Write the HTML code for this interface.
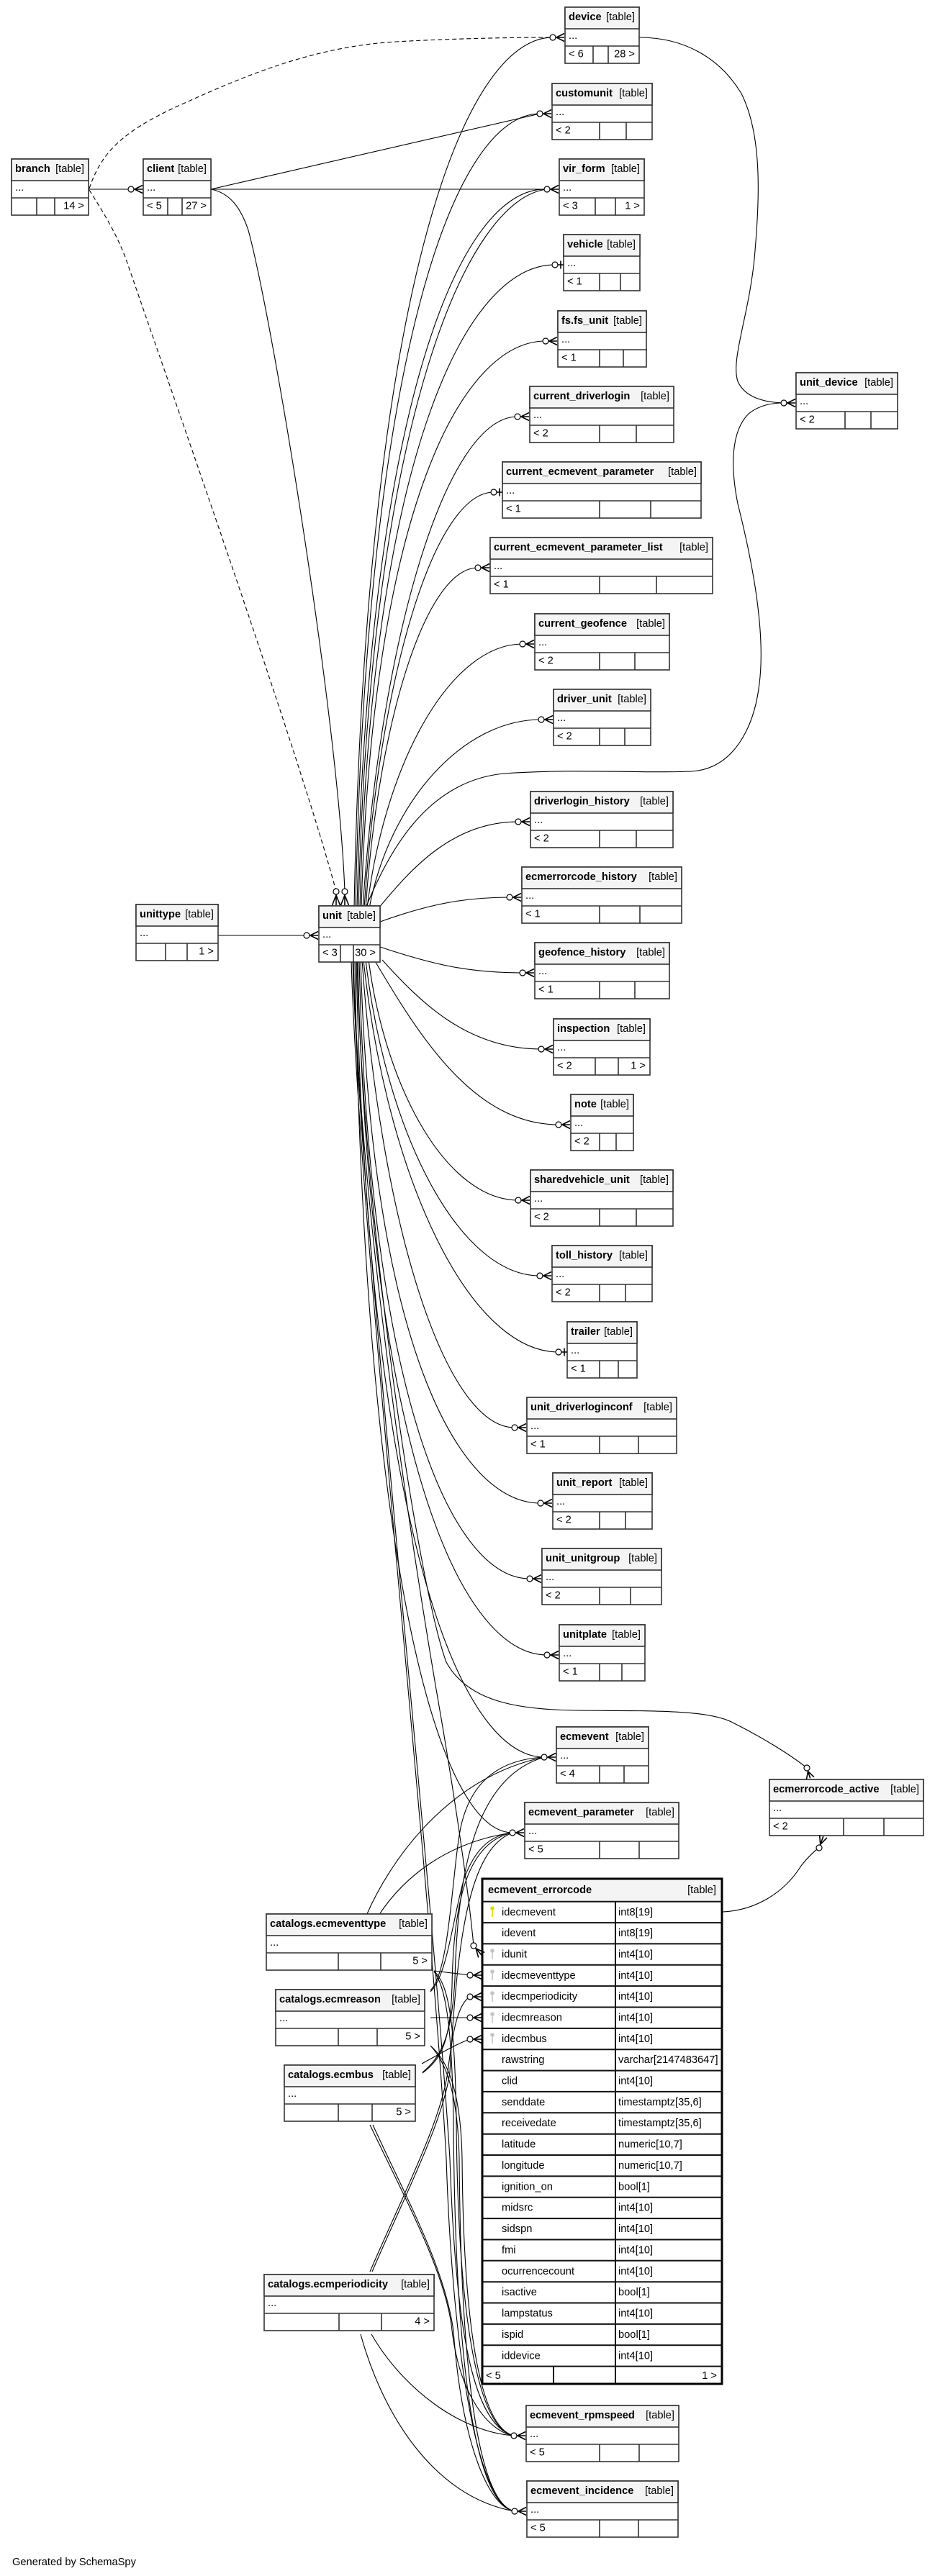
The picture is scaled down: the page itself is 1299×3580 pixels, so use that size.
<!DOCTYPE html>
<html>
<head>
<meta charset="utf-8">
<style>
html,body{margin:0;padding:0;background:#fff;}
body{width:1299px;height:3580px;overflow:hidden;}
svg{display:block;}
text{font-family:"Liberation Sans",Arial,sans-serif;font-size:14.67px;fill:#000;}
.n{font-weight:bold;}
.tr{text-anchor:end;}
.bx rect.o{fill:#fff;stroke:#333;stroke-width:1.6;}
.bx rect.h{fill:#f4f4f4;stroke:#333;stroke-width:1.6;}
.bx path{stroke:#333;stroke-width:1.6;fill:none;}
.e path{fill:none;stroke:#000;stroke-width:1.1;}
.e .d{stroke-dasharray:6,4;}
.m path{fill:none;stroke:#000;stroke-width:1.6;}
.m circle{fill:#fff;stroke:#000;stroke-width:1.2;}
</style>
</head>
<body>
<svg width="1299" height="3580" viewBox="0 0 1299 3580" xmlns="http://www.w3.org/2000/svg">
<rect x="0" y="0" width="1299" height="3580" fill="#fff"/>

<!-- EDGES -->
<g class="e">
<!-- branch edges -->
<path d="M123,263 L182,263"/>
<path class="d" d="M124,262 C140,215 165,185 248,147 C330,110 430,65 550,58 C640,53 720,52 768,52"/>
<path class="d" d="M124,264 C140,290 160,320 175,360 C230,520 420,1060 467,1239"/>
<!-- client edges -->
<path d="M293,263 L750,158"/>
<path d="M293,263 L760,263"/>
<path d="M293,263 C320,268 335,290 345,320 C380,450 470,1000 479,1239"/>
<!-- device -> unit_device -->
<path d="M888,52 C950,52 1000,80 1030,130 C1060,190 1055,280 1048,360 C1040,440 1015,500 1025,530 C1035,552 1060,559 1089,560"/>
<!-- unittype -> unit -->
<path d="M303,1300 L426,1300"/>
<!-- unit above -->
<path d="M492,1262 C508,413 642,52 768,52"/>
<path d="M494,1262 C509,487 633,158 750,158"/>
<path d="M496,1262 C512,561 640,258 760,263"/>
<path d="M498,1262 C514,580 650,275 760,263"/>
<path d="M500,1262 C516,634 647,368 771,368"/>
<path d="M502,1262 C517,709 641,474 758,474"/>
<path d="M504,1262 C529,884 620,579 719,579"/>
<path d="M506,1262 C527,941 603,684 686,684"/>
<path d="M508,1262 C526,999 592,789 664,789"/>
<path d="M510,1262 C535,1057 627,895 726,895"/>
<path d="M513,1262 C541,1115 642,1000 752,1000"/>
<path d="M526,1262 C573,1205 630,1142 720,1142"/>
<path d="M528,1281 C600,1255 650,1247 708,1247"/>
<path d="M528,1316 C600,1340 650,1352 726,1352"/>
<path d="M508,1262 C545,1170 600,1085 700,1075 C800,1068 900,1075 961,1072 C1020,1068 1048,1010 1055,950 C1065,870 1040,760 1025,700 C1015,650 1015,600 1040,575 C1055,563 1072,560 1089,560"/>
<!-- unit below -->
<path d="M531,1334 C585,1394 650,1458 752,1458"/>
<path d="M520,1334 C583,1441 659,1563 776,1563"/>
<path d="M512,1334 C537,1521 624,1668 720,1668"/>
<path d="M508,1334 C537,1579 639,1773 750,1773"/>
<path d="M505,1334 C537,1637 652,1879 776,1879"/>
<path d="M503,1334 C528,1695 617,1984 715,1984"/>
<path d="M501,1334 C516,1865 636,2089 751,2089"/>
<path d="M499,1334 C513,1938 627,2194 736,2194"/>
<path d="M497,1334 C512,2013 639,2300 760,2300"/>
<path d="M495,1334 C510,2112 636,2442 756,2442"/>
<path d="M493,1334 C506,2185 611,2547 712,2547"/>
<path d="M491,1334 C500,1700 580,2200 615,2400 C635,2520 650,2620 658,2704"/>
<path d="M496,1334 C505,1700 580,2200 620,2310 C650,2365 720,2376 800,2377 C900,2378 985,2375 1020,2395 C1060,2415 1100,2440 1121,2457"/>
<path d="M490,1334 C500,1700 600,2600 625,3000 C632,3200 650,3370 714,3385"/>
<path d="M488,1334 C498,1700 598,2600 620,3000 C628,3250 660,3480 715,3490"/>
<!-- catalogs -->
<path d="M509,2662 C540,2590 620,2470 756,2442"/>
<path d="M526,2662 C560,2610 620,2560 712,2547"/>
<path d="M603,2739 L653,2745"/>
<path d="M603,2739 C622,2758 632,2800 634,2950 C636,3200 660,3375 714,3385"/>
<path d="M603,2740 C620,2762 628,2820 630,2950 C632,3250 655,3480 715,3490"/>
<path d="M598,2804 L653,2804"/>
<path d="M598,2766 C625,2740 628,2600 640,2540 C655,2470 700,2445 756,2442"/>
<path d="M598,2768 C622,2745 630,2660 645,2610 C662,2565 685,2550 712,2547"/>
<path d="M598,2843 C620,2862 640,2900 642,3000 C644,3250 670,3375 714,3385"/>
<path d="M598,2843 C618,2864 636,2905 638,3000 C640,3300 665,3480 715,3490"/>
<path d="M586,2868 C610,2855 635,2840 653,2834"/>
<path d="M587,2880 C612,2860 628,2830 632,2750 C636,2600 660,2470 756,2442"/>
<path d="M587,2881 C612,2862 626,2840 628,2760 C630,2640 650,2560 712,2547"/>
<path d="M514,2953 C560,3050 615,3150 627,3230 C637,3330 680,3380 714,3385"/>
<path d="M518,2953 C562,3050 618,3150 630,3240 C642,3400 680,3485 715,3490"/>
<path d="M514,3157 C560,3050 612,2950 622,2880 C628,2830 635,2785 653,2775"/>
<path d="M517,3157 C563,3050 615,2950 625,2880 C635,2700 650,2570 712,2547"/>
<path d="M516,3244 C560,3320 640,3380 714,3385"/>
<path d="M501,3244 C530,3350 600,3470 715,3490"/>
<!-- errorcode -> ecmerrorcode_active -->
<path d="M1004,2657 C1050,2655 1090,2630 1113,2593 C1125,2578 1132,2572 1138,2568"/>
</g>

<!-- BOXES -->
<g class="bx">
<rect class="o" x="785" y="10" width="103" height="78"/><rect class="h" x="785" y="10" width="103" height="30"/><path d="M785,64H888M824,64V88M845,64V88"/>
<text x="790" y="28" class="n">device</text><text x="882" y="28" class="tr">[table]</text><text x="790" y="54">...</text><text x="790" y="79.5">&lt; 6</text><text x="882" y="79.5" class="tr">28 &gt;</text>
</g>
<g class="bx">
<rect class="o" x="767" y="116" width="139" height="78"/><rect class="h" x="767" y="116" width="139" height="30"/><path d="M767,170H906M833,170V194M870,170V194"/>
<text x="772" y="134" class="n">customunit</text><text x="900" y="134" class="tr">[table]</text><text x="772" y="160">...</text><text x="772" y="185.5">&lt; 2</text>
</g>
<g class="bx">
<rect class="o" x="16" y="221" width="107" height="78"/><rect class="h" x="16" y="221" width="107" height="30"/><path d="M16,275H123M51,275V299M76,275V299"/>
<text x="21" y="239" class="n">branch</text><text x="117" y="239" class="tr">[table]</text><text x="21" y="265">...</text><text x="117" y="290.5" class="tr">14 &gt;</text>
</g>
<g class="bx">
<rect class="o" x="199" y="221" width="94" height="78"/><rect class="h" x="199" y="221" width="94" height="30"/><path d="M199,275H293M233,275V299M253,275V299"/>
<text x="204" y="239" class="n">client</text><text x="287" y="239" class="tr">[table]</text><text x="204" y="265">...</text><text x="204" y="290.5">&lt; 5</text><text x="287" y="290.5" class="tr">27 &gt;</text>
</g>
<g class="bx">
<rect class="o" x="777" y="221" width="118" height="78"/><rect class="h" x="777" y="221" width="118" height="30"/><path d="M777,275H895M827,275V299M855,275V299"/>
<text x="782" y="239" class="n">vir_form</text><text x="889" y="239" class="tr">[table]</text><text x="782" y="265">...</text><text x="782" y="290.5">&lt; 3</text><text x="889" y="290.5" class="tr">1 &gt;</text>
</g>
<g class="bx">
<rect class="o" x="783" y="326" width="106" height="78"/><rect class="h" x="783" y="326" width="106" height="30"/><path d="M783,380H889M833,380V404M862,380V404"/>
<text x="788" y="344" class="n">vehicle</text><text x="883" y="344" class="tr">[table]</text><text x="788" y="370">...</text><text x="788" y="395.5">&lt; 1</text>
</g>
<g class="bx">
<rect class="o" x="775" y="432" width="123" height="78"/><rect class="h" x="775" y="432" width="123" height="30"/><path d="M775,486H898M833,486V510M866,486V510"/>
<text x="780" y="450" class="n">fs.fs_unit</text><text x="892" y="450" class="tr">[table]</text><text x="780" y="476">...</text><text x="780" y="501.5">&lt; 1</text>
</g>
<g class="bx">
<rect class="o" x="1106" y="518" width="141" height="78"/><rect class="h" x="1106" y="518" width="141" height="30"/><path d="M1106,572H1247M1174,572V596M1210,572V596"/>
<text x="1111" y="536" class="n">unit_device</text><text x="1241" y="536" class="tr">[table]</text><text x="1111" y="562">...</text><text x="1111" y="587.5">&lt; 2</text>
</g>
<g class="bx">
<rect class="o" x="736" y="537" width="200" height="78"/><rect class="h" x="736" y="537" width="200" height="30"/><path d="M736,591H936M833,591V615M884,591V615"/>
<text x="741" y="555" class="n">current_driverlogin</text><text x="930" y="555" class="tr">[table]</text><text x="741" y="581">...</text><text x="741" y="606.5">&lt; 2</text>
</g>
<g class="bx">
<rect class="o" x="698" y="642" width="276" height="78"/><rect class="h" x="698" y="642" width="276" height="30"/><path d="M698,696H974M833,696V720M904,696V720"/>
<text x="703" y="660" class="n">current_ecmevent_parameter</text><text x="968" y="660" class="tr">[table]</text><text x="703" y="686">...</text><text x="703" y="711.5">&lt; 1</text>
</g>
<g class="bx">
<rect class="o" x="681" y="747" width="309" height="78"/><rect class="h" x="681" y="747" width="309" height="30"/><path d="M681,801H990M833,801V825M912,801V825"/>
<text x="686" y="765" class="n">current_ecmevent_parameter_list</text><text x="984" y="765" class="tr">[table]</text><text x="686" y="791">...</text><text x="686" y="816.5">&lt; 1</text>
</g>
<g class="bx">
<rect class="o" x="743" y="853" width="187" height="78"/><rect class="h" x="743" y="853" width="187" height="30"/><path d="M743,907H930M833,907V931M882,907V931"/>
<text x="748" y="871" class="n">current_geofence</text><text x="924" y="871" class="tr">[table]</text><text x="748" y="897">...</text><text x="748" y="922.5">&lt; 2</text>
</g>
<g class="bx">
<rect class="o" x="769" y="958" width="135" height="78"/><rect class="h" x="769" y="958" width="135" height="30"/><path d="M769,1012H904M833,1012V1036M868,1012V1036"/>
<text x="774" y="976" class="n">driver_unit</text><text x="898" y="976" class="tr">[table]</text><text x="774" y="1002">...</text><text x="774" y="1027.5">&lt; 2</text>
</g>
<g class="bx">
<rect class="o" x="737" y="1100" width="198" height="78"/><rect class="h" x="737" y="1100" width="198" height="30"/><path d="M737,1154H935M833,1154V1178M884,1154V1178"/>
<text x="742" y="1118" class="n">driverlogin_history</text><text x="929" y="1118" class="tr">[table]</text><text x="742" y="1144">...</text><text x="742" y="1169.5">&lt; 2</text>
</g>
<g class="bx">
<rect class="o" x="725" y="1205" width="222" height="78"/><rect class="h" x="725" y="1205" width="222" height="30"/><path d="M725,1259H947M833,1259V1283M889,1259V1283"/>
<text x="730" y="1223" class="n">ecmerrorcode_history</text><text x="941" y="1223" class="tr">[table]</text><text x="730" y="1249">...</text><text x="730" y="1274.5">&lt; 1</text>
</g>
<g class="bx">
<rect class="o" x="189" y="1257" width="114" height="78"/><rect class="h" x="189" y="1257" width="114" height="30"/><path d="M189,1311H303M230,1311V1335M260,1311V1335"/>
<text x="194" y="1275" class="n">unittype</text><text x="297" y="1275" class="tr">[table]</text><text x="194" y="1301">...</text><text x="297" y="1326.5" class="tr">1 &gt;</text>
</g>
<g class="bx">
<rect class="o" x="443" y="1259" width="85" height="78"/><rect class="h" x="443" y="1259" width="85" height="30"/><path d="M443,1313H528M473,1313V1337M491,1313V1337"/>
<text x="448" y="1277" class="n">unit</text><text x="522" y="1277" class="tr">[table]</text><text x="448" y="1303">...</text><text x="448" y="1328.5">&lt; 3</text><text x="522" y="1328.5" class="tr">30 &gt;</text>
</g>
<g class="bx">
<rect class="o" x="743" y="1310" width="187" height="78"/><rect class="h" x="743" y="1310" width="187" height="30"/><path d="M743,1364H930M833,1364V1388M882,1364V1388"/>
<text x="748" y="1328" class="n">geofence_history</text><text x="924" y="1328" class="tr">[table]</text><text x="748" y="1354">...</text><text x="748" y="1379.5">&lt; 1</text>
</g>
<g class="bx">
<rect class="o" x="769" y="1416" width="134" height="78"/><rect class="h" x="769" y="1416" width="134" height="30"/><path d="M769,1470H903M827,1470V1494M859,1470V1494"/>
<text x="774" y="1434" class="n">inspection</text><text x="897" y="1434" class="tr">[table]</text><text x="774" y="1460">...</text><text x="774" y="1485.5">&lt; 2</text><text x="897" y="1485.5" class="tr">1 &gt;</text>
</g>
<g class="bx">
<rect class="o" x="793" y="1521" width="87" height="78"/><rect class="h" x="793" y="1521" width="87" height="30"/><path d="M793,1575H880M833,1575V1599M856,1575V1599"/>
<text x="798" y="1539" class="n">note</text><text x="874" y="1539" class="tr">[table]</text><text x="798" y="1565">...</text><text x="798" y="1590.5">&lt; 2</text>
</g>
<g class="bx">
<rect class="o" x="737" y="1626" width="198" height="78"/><rect class="h" x="737" y="1626" width="198" height="30"/><path d="M737,1680H935M833,1680V1704M884,1680V1704"/>
<text x="742" y="1644" class="n">sharedvehicle_unit</text><text x="929" y="1644" class="tr">[table]</text><text x="742" y="1670">...</text><text x="742" y="1695.5">&lt; 2</text>
</g>
<g class="bx">
<rect class="o" x="767" y="1731" width="139" height="78"/><rect class="h" x="767" y="1731" width="139" height="30"/><path d="M767,1785H906M833,1785V1809M869,1785V1809"/>
<text x="772" y="1749" class="n">toll_history</text><text x="900" y="1749" class="tr">[table]</text><text x="772" y="1775">...</text><text x="772" y="1800.5">&lt; 2</text>
</g>
<g class="bx">
<rect class="o" x="788" y="1837" width="97" height="78"/><rect class="h" x="788" y="1837" width="97" height="30"/><path d="M788,1891H885M833,1891V1915M859,1891V1915"/>
<text x="793" y="1855" class="n">trailer</text><text x="879" y="1855" class="tr">[table]</text><text x="793" y="1881">...</text><text x="793" y="1906.5">&lt; 1</text>
</g>
<g class="bx">
<rect class="o" x="732" y="1942" width="208" height="78"/><rect class="h" x="732" y="1942" width="208" height="30"/><path d="M732,1996H940M833,1996V2020M887,1996V2020"/>
<text x="737" y="1960" class="n">unit_driverloginconf</text><text x="934" y="1960" class="tr">[table]</text><text x="737" y="1986">...</text><text x="737" y="2011.5">&lt; 1</text>
</g>
<g class="bx">
<rect class="o" x="768" y="2047" width="138" height="78"/><rect class="h" x="768" y="2047" width="138" height="30"/><path d="M768,2101H906M833,2101V2125M869,2101V2125"/>
<text x="773" y="2065" class="n">unit_report</text><text x="900" y="2065" class="tr">[table]</text><text x="773" y="2091">...</text><text x="773" y="2116.5">&lt; 2</text>
</g>
<g class="bx">
<rect class="o" x="753" y="2152" width="166" height="78"/><rect class="h" x="753" y="2152" width="166" height="30"/><path d="M753,2206H919M833,2206V2230M876,2206V2230"/>
<text x="758" y="2170" class="n">unit_unitgroup</text><text x="913" y="2170" class="tr">[table]</text><text x="758" y="2196">...</text><text x="758" y="2221.5">&lt; 2</text>
</g>
<g class="bx">
<rect class="o" x="777" y="2258" width="119" height="78"/><rect class="h" x="777" y="2258" width="119" height="30"/><path d="M777,2312H896M833,2312V2336M864,2312V2336"/>
<text x="782" y="2276" class="n">unitplate</text><text x="890" y="2276" class="tr">[table]</text><text x="782" y="2302">...</text><text x="782" y="2327.5">&lt; 1</text>
</g>
<g class="bx">
<rect class="o" x="773" y="2400" width="128" height="78"/><rect class="h" x="773" y="2400" width="128" height="30"/><path d="M773,2454H901M833,2454V2478M867,2454V2478"/>
<text x="778" y="2418" class="n">ecmevent</text><text x="895" y="2418" class="tr">[table]</text><text x="778" y="2444">...</text><text x="778" y="2469.5">&lt; 4</text>
</g>
<g class="bx">
<rect class="o" x="1069" y="2473" width="214" height="78"/><rect class="h" x="1069" y="2473" width="214" height="30"/><path d="M1069,2527H1283M1172,2527V2551M1228,2527V2551"/>
<text x="1074" y="2491" class="n">ecmerrorcode_active</text><text x="1277" y="2491" class="tr">[table]</text><text x="1074" y="2517">...</text><text x="1074" y="2542.5">&lt; 2</text>
</g>
<g class="bx">
<rect class="o" x="729" y="2505" width="214" height="78"/><rect class="h" x="729" y="2505" width="214" height="30"/><path d="M729,2559H943M833,2559V2583M888,2559V2583"/>
<text x="734" y="2523" class="n">ecmevent_parameter</text><text x="937" y="2523" class="tr">[table]</text><text x="734" y="2549">...</text><text x="734" y="2574.5">&lt; 5</text>
</g>
<g class="bx">
<rect class="o" x="370" y="2660" width="230" height="78"/><rect class="h" x="370" y="2660" width="230" height="30"/><path d="M370,2714H600M470,2714V2738M529,2714V2738"/>
<text x="375" y="2678" class="n">catalogs.ecmeventtype</text><text x="594" y="2678" class="tr">[table]</text><text x="375" y="2704">...</text><text x="594" y="2729.5" class="tr">5 &gt;</text>
</g>
<g class="bx">
<rect class="o" x="383" y="2765" width="207" height="78"/><rect class="h" x="383" y="2765" width="207" height="30"/><path d="M383,2819H590M470,2819V2843M524,2819V2843"/>
<text x="388" y="2783" class="n">catalogs.ecmreason</text><text x="584" y="2783" class="tr">[table]</text><text x="388" y="2809">...</text><text x="584" y="2834.5" class="tr">5 &gt;</text>
</g>
<g class="bx">
<rect class="o" x="395" y="2870" width="182" height="78"/><rect class="h" x="395" y="2870" width="182" height="30"/><path d="M395,2924H577M470,2924V2948M517,2924V2948"/>
<text x="400" y="2888" class="n">catalogs.ecmbus</text><text x="571" y="2888" class="tr">[table]</text><text x="400" y="2914">...</text><text x="571" y="2939.5" class="tr">5 &gt;</text>
</g>
<g class="bx">
<rect class="o" x="367" y="3161" width="236" height="78"/><rect class="h" x="367" y="3161" width="236" height="30"/><path d="M367,3215H603M471,3215V3239M530,3215V3239"/>
<text x="372" y="3179" class="n">catalogs.ecmperiodicity</text><text x="597" y="3179" class="tr">[table]</text><text x="372" y="3205">...</text><text x="597" y="3230.5" class="tr">4 &gt;</text>
</g>
<g class="bx">
<rect class="o" x="731" y="3343" width="212" height="78"/><rect class="h" x="731" y="3343" width="212" height="30"/><path d="M731,3397H943M833,3397V3421M888,3397V3421"/>
<text x="736" y="3361" class="n">ecmevent_rpmspeed</text><text x="937" y="3361" class="tr">[table]</text><text x="736" y="3387">...</text><text x="736" y="3412.5">&lt; 5</text>
</g>
<g class="bx">
<rect class="o" x="732" y="3448" width="210" height="78"/><rect class="h" x="732" y="3448" width="210" height="30"/><path d="M732,3502H942M833,3502V3526M887,3502V3526"/>
<text x="737" y="3466" class="n">ecmevent_incidence</text><text x="936" y="3466" class="tr">[table]</text><text x="737" y="3492">...</text><text x="737" y="3517.5">&lt; 5</text>
</g>

<!-- ecmevent_errorcode big table -->
<g>
<rect x="670" y="2611" width="333" height="702" fill="#fff" stroke="#000" stroke-width="3"/>
<rect x="671.5" y="2612.5" width="330" height="30.2" fill="#f4f4f4"/>
<path fill="none" stroke="#111" stroke-width="2" d="M670,2642.7H1003M670,2672.1H1003M670,2701.4H1003M670,2730.8H1003M670,2760.1H1003M670,2789.5H1003M670,2818.9H1003M670,2848.2H1003M670,2877.6H1003M670,2906.9H1003M670,2936.3H1003M670,2965.7H1003M670,2995H1003M670,3024.4H1003M670,3053.7H1003M670,3083.1H1003M670,3112.5H1003M670,3141.8H1003M670,3171.2H1003M670,3200.5H1003M670,3229.9H1003M670,3259.3H1003M670,3288.6H1003M855,2642.7V3313M769,3288.6V3313"/>
<rect x="670" y="2611" width="333" height="702" fill="none" stroke="#000" stroke-width="3"/>
<text x="678" y="2631" class="n">ecmevent_errorcode</text><text x="995" y="2631" class="tr">[table]</text>
<!-- keys -->
<circle cx="684" cy="2652" r="2.8" fill="#e0e000"/><rect x="683.2" y="2654" width="1.6" height="10" fill="#e0e000"/>
<circle cx="684" cy="2711" r="2.8" fill="#c4c4c4"/><rect x="683.2" y="2713" width="1.6" height="10" fill="#c4c4c4"/>
<circle cx="684" cy="2740" r="2.8" fill="#c4c4c4"/><rect x="683.2" y="2742" width="1.6" height="10" fill="#c4c4c4"/>
<circle cx="684" cy="2770" r="2.8" fill="#c4c4c4"/><rect x="683.2" y="2772" width="1.6" height="10" fill="#c4c4c4"/>
<circle cx="684" cy="2799" r="2.8" fill="#c4c4c4"/><rect x="683.2" y="2801" width="1.6" height="10" fill="#c4c4c4"/>
<circle cx="684" cy="2828" r="2.8" fill="#c4c4c4"/><rect x="683.2" y="2830" width="1.6" height="10" fill="#c4c4c4"/>
<text x="697" y="2662">idecmevent</text><text x="859" y="2662">int8[19]</text>
<text x="697" y="2691">idevent</text><text x="859" y="2691">int8[19]</text>
<text x="697" y="2720.5">idunit</text><text x="859" y="2720.5">int4[10]</text>
<text x="697" y="2750">idecmeventtype</text><text x="859" y="2750">int4[10]</text>
<text x="697" y="2779">idecmperiodicity</text><text x="859" y="2779">int4[10]</text>
<text x="697" y="2808.5">idecmreason</text><text x="859" y="2808.5">int4[10]</text>
<text x="697" y="2838">idecmbus</text><text x="859" y="2838">int4[10]</text>
<text x="697" y="2867">rawstring</text><text x="859" y="2867">varchar[2147483647]</text>
<text x="697" y="2896.5">clid</text><text x="859" y="2896.5">int4[10]</text>
<text x="697" y="2926">senddate</text><text x="859" y="2926">timestamptz[35,6]</text>
<text x="697" y="2955">receivedate</text><text x="859" y="2955">timestamptz[35,6]</text>
<text x="697" y="2984.5">latitude</text><text x="859" y="2984.5">numeric[10,7]</text>
<text x="697" y="3014">longitude</text><text x="859" y="3014">numeric[10,7]</text>
<text x="697" y="3043.5">ignition_on</text><text x="859" y="3043.5">bool[1]</text>
<text x="697" y="3072.5">midsrc</text><text x="859" y="3072.5">int4[10]</text>
<text x="697" y="3102">sidspn</text><text x="859" y="3102">int4[10]</text>
<text x="697" y="3131.5">fmi</text><text x="859" y="3131.5">int4[10]</text>
<text x="697" y="3161">ocurrencecount</text><text x="859" y="3161">int4[10]</text>
<text x="697" y="3190">isactive</text><text x="859" y="3190">bool[1]</text>
<text x="697" y="3219.5">lampstatus</text><text x="859" y="3219.5">int4[10]</text>
<text x="697" y="3249">ispid</text><text x="859" y="3249">bool[1]</text>
<text x="697" y="3278.5">iddevice</text><text x="859" y="3278.5">int4[10]</text>
<text x="675" y="3306">&lt; 5</text><text x="996" y="3306" class="tr">1 &gt;</text>
</g>

<!-- MARKERS: crow + odot (circle center given) -->
<g class="m">
<g transform="translate(768,52)"><path d="M4,0H16M5,0L16,-5.5M5,0L16,5.5"/><circle r="4"/></g>
<g transform="translate(750,158)"><path d="M4,0H16M5,0L16,-5.5M5,0L16,5.5"/><circle r="4"/></g>
<g transform="translate(760,263)"><path d="M4,0H16M5,0L16,-5.5M5,0L16,5.5"/><circle r="4"/></g>
<g transform="translate(758,474)"><path d="M4,0H16M5,0L16,-5.5M5,0L16,5.5"/><circle r="4"/></g>
<g transform="translate(1089,560)"><path d="M4,0H16M5,0L16,-5.5M5,0L16,5.5"/><circle r="4"/></g>
<g transform="translate(719,579)"><path d="M4,0H16M5,0L16,-5.5M5,0L16,5.5"/><circle r="4"/></g>
<g transform="translate(664,789)"><path d="M4,0H16M5,0L16,-5.5M5,0L16,5.5"/><circle r="4"/></g>
<g transform="translate(726,895)"><path d="M4,0H16M5,0L16,-5.5M5,0L16,5.5"/><circle r="4"/></g>
<g transform="translate(752,1000)"><path d="M4,0H16M5,0L16,-5.5M5,0L16,5.5"/><circle r="4"/></g>
<g transform="translate(720,1142)"><path d="M4,0H16M5,0L16,-5.5M5,0L16,5.5"/><circle r="4"/></g>
<g transform="translate(708,1247)"><path d="M4,0H16M5,0L16,-5.5M5,0L16,5.5"/><circle r="4"/></g>
<g transform="translate(726,1352)"><path d="M4,0H16M5,0L16,-5.5M5,0L16,5.5"/><circle r="4"/></g>
<g transform="translate(182,263)"><path d="M4,0H16M5,0L16,-5.5M5,0L16,5.5"/><circle r="4"/></g>
<g transform="translate(426,1300)"><path d="M4,0H16M5,0L16,-5.5M5,0L16,5.5"/><circle r="4"/></g>
<g transform="translate(752,1458)"><path d="M4,0H16M5,0L16,-5.5M5,0L16,5.5"/><circle r="4"/></g>
<g transform="translate(776,1563)"><path d="M4,0H16M5,0L16,-5.5M5,0L16,5.5"/><circle r="4"/></g>
<g transform="translate(720,1668)"><path d="M4,0H16M5,0L16,-5.5M5,0L16,5.5"/><circle r="4"/></g>
<g transform="translate(750,1773)"><path d="M4,0H16M5,0L16,-5.5M5,0L16,5.5"/><circle r="4"/></g>
<g transform="translate(715,1984)"><path d="M4,0H16M5,0L16,-5.5M5,0L16,5.5"/><circle r="4"/></g>
<g transform="translate(751,2089)"><path d="M4,0H16M5,0L16,-5.5M5,0L16,5.5"/><circle r="4"/></g>
<g transform="translate(736,2194)"><path d="M4,0H16M5,0L16,-5.5M5,0L16,5.5"/><circle r="4"/></g>
<g transform="translate(760,2300)"><path d="M4,0H16M5,0L16,-5.5M5,0L16,5.5"/><circle r="4"/></g>
<g transform="translate(756,2442)"><path d="M4,0H16M5,0L16,-5.5M5,0L16,5.5"/><circle r="4"/></g>
<g transform="translate(712,2547)"><path d="M4,0H16M5,0L16,-5.5M5,0L16,5.5"/><circle r="4"/></g>
<g transform="translate(714,3385)"><path d="M4,0H16M5,0L16,-5.5M5,0L16,5.5"/><circle r="4"/></g>
<g transform="translate(715,3490)"><path d="M4,0H16M5,0L16,-5.5M5,0L16,5.5"/><circle r="4"/></g>
<g transform="translate(653,2745)"><path d="M4,0H16M5,0L16,-5.5M5,0L16,5.5"/><circle r="4"/></g>
<g transform="translate(653,2775)"><path d="M4,0H16M5,0L16,-5.5M5,0L16,5.5"/><circle r="4"/></g>
<g transform="translate(653,2804)"><path d="M4,0H16M5,0L16,-5.5M5,0L16,5.5"/><circle r="4"/></g>
<g transform="translate(653,2834)"><path d="M4,0H16M5,0L16,-5.5M5,0L16,5.5"/><circle r="4"/></g>
<!-- diagonal / vertical ones -->
<g transform="translate(658,2704) rotate(50)"><path d="M4,0H17M5,0L17,-5.5M5,0L17,5.5"/><circle r="4"/></g>
<g transform="translate(467,1239) rotate(90)"><path d="M4,0H19M5,0L19,-5.5M5,0L19,5.5"/><circle r="4"/></g>
<g transform="translate(479,1239) rotate(90)"><path d="M4,0H19M5,0L19,-5.5M5,0L19,5.5"/><circle r="4"/></g>
<g transform="translate(1121,2457) rotate(72)"><path d="M4,0H15M5,0L15,-5.5M5,0L15,5.5"/><circle r="4"/></g>
<g transform="translate(1138,2568) rotate(-70)"><path d="M4,0H17M5,0L17,-5.5M5,0L17,5.5"/><circle r="4"/></g>
<!-- tee + odot (zero or one) -->
<g transform="translate(771,368)"><path d="M4,0H12M8,-5.5V5.5"/><circle r="4"/></g>
<g transform="translate(686,684)"><path d="M4,0H12M8,-5.5V5.5"/><circle r="4"/></g>
<g transform="translate(776,1879)"><path d="M4,0H12M8,-5.5V5.5"/><circle r="4"/></g>
</g>

<text x="17" y="3565">Generated by SchemaSpy</text>
</svg>
</body>
</html>
